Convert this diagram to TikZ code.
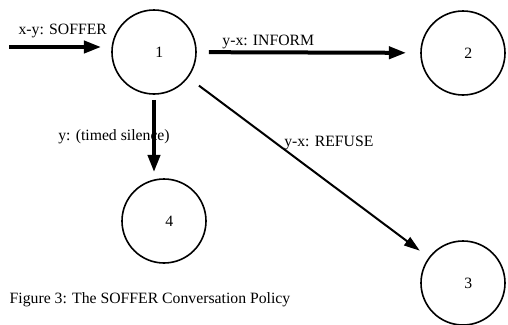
\documentclass[tikz,border=0pt]{standalone}
\usepackage{fontspec}
\setmainfont{Liberation Serif}
\usetikzlibrary{arrows.meta}

\begin{document}
\begin{tikzpicture}[x=0.75pt,y=-0.75pt,
		every node/.style={font=\fontsize{11.8}{14}\selectfont},
		convstate/.style={draw,circle,line width=1.2pt,minimum size=63pt,inner sep=0pt},
		msgarrow/.style={line width=3pt,-{Triangle[length=13pt,width=9pt]}},
		thinarrow/.style={line width=1.5pt,-{Triangle[length=12pt,width=7.5pt]}}]
		\useasboundingbox (0,0) rectangle (508,325);
		
		% states of the conversation
		\node[convstate] (s1) at (154,52) {\hspace{8pt}1};
		\node[convstate] (s2) at (463,53) {\hspace{8pt}2};
		\node[convstate] (s3) at (463,283) {\hspace{8pt}3};
		\node[convstate] (s4) at (164,221) {\hspace{8pt}4};
		\coordinate (in) at (9,47);
		
		\draw [msgarrow,shorten >=7.5pt] (in) -- (in -| s1.west) node[midway,above,inner sep=5.5pt,xshift=2pt] {x-y: SOFFER};
		\draw [msgarrow,shorten <=9pt,shorten >=10.5pt] (s1) -- (s2) node[pos=0.32,above,inner sep=1pt] {y-x: INFORM};
		\draw [msgarrow,shorten <=3.75pt,shorten >=4.5pt] (s1.south) -- (s1.south |- s4.north) node[midway,xshift=-30pt] {y: (timed silence)};
		\draw [thinarrow,shorten <=10pt,shorten >=8.3pt] (s1) -- (s3) node[pos=0.395,anchor=south west,inner sep=0pt,yshift=-2pt] {y-x: REFUSE};
		
		\node[anchor=west] (caption) at (5,300) {Figure 3: The SOFFER Conversation Policy};
\end{tikzpicture}
\end{document}
